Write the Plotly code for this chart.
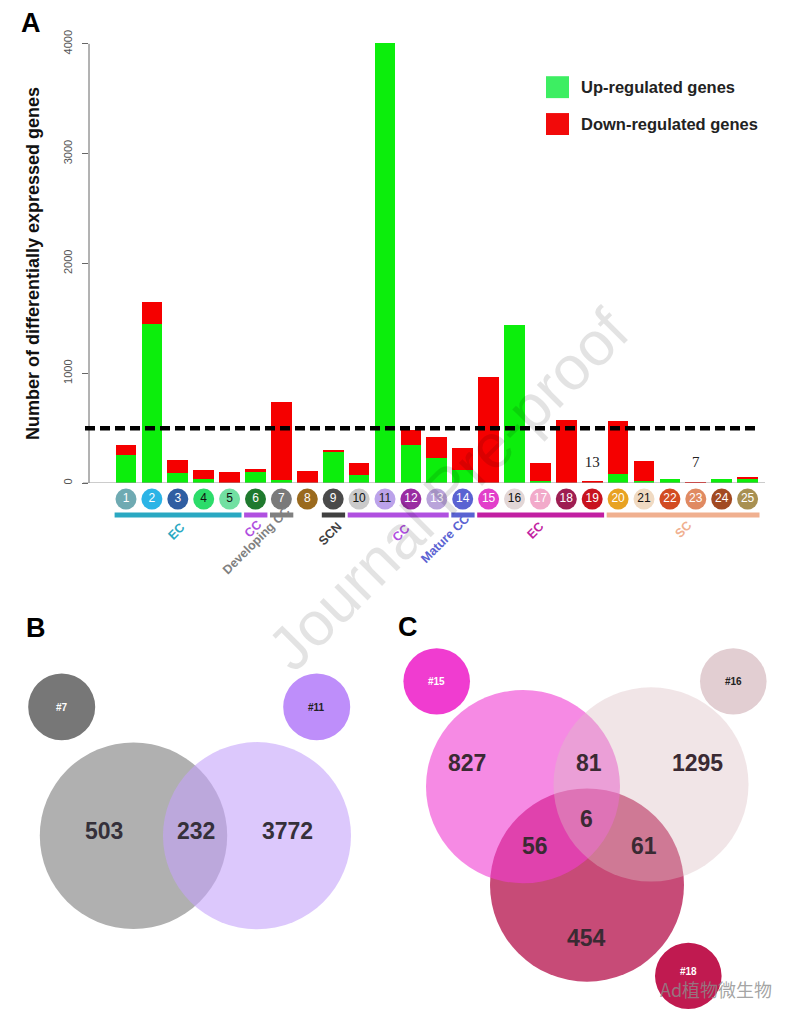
import plotly.graph_objects as go

W, H = 801, 1024

# ---------------- data ----------------
clusters = list(range(1, 26))
cluster_labels = [str(i) for i in clusters]
up_genes = [260, 1450, 88, 33, 5, 103, 25, 5, 284, 70, 4004, 345, 226, 115, 0,
            1443, 20, 0, 6, 79, 15, 40, 0, 36, 45]
down_genes = [85, 195, 118, 91, 98, 27, 710, 101, 22, 111, 0, 135, 191, 205, 970,
              0, 159, 577, 7, 483, 185, 0, 7, 0, 8]
threshold = 500
small_counts = {19: "13", 23: "7"}

cluster_colors = ["#6FAAB2", "#2BB4E6", "#2F5EA2", "#2CDC6A", "#72E0A2", "#1F7A2E",
                  "#7A7A7A", "#9A6A1E", "#4A4A4A", "#CACACA", "#BBA2EA", "#9A2CA2",
                  "#B9A4DA", "#5A62D2", "#E23FCA", "#E2D6D6", "#F2AACA", "#9E1E52",
                  "#C8121E", "#E8A222", "#F0DAC2", "#D24C22", "#E08A62", "#A24A22",
                  "#A89052"]
cluster_text_colors = ["white", "white", "white", "#111", "#111", "white", "white",
                       "white", "white", "#111", "#222", "white", "white", "white",
                       "white", "#111", "white", "white", "white", "white", "#111",
                       "white", "white", "white", "white"]

groups = ["EC", "CC", "Developing CC", "SCN", "CC", "Mature CC", "EC", "SC"]
group_first = [1, 6, 7, 9, 10, 14, 15, 20]
group_last = [5, 6, 7, 9, 13, 14, 19, 25]
group_colors = ["#2AA8C2", "#B050E0", "#808080", "#404040", "#B050E0", "#5A62D2",
                "#C21FA2", "#F0B090"]

venn_b_labels = ["503", "232", "3772"]
venn_b_sets = ["#7", "#11"]
venn_c_labels = ["827", "81", "1295", "6", "56", "61", "454"]
venn_c_sets = ["#15", "#16", "#18"]

GREEN = "#0CEE0C"
RED = "#F50000"
FONT = "Arial, Liberation Sans"

# ---------------- helpers ----------------
def px(x):
    return x / W

def py(y):
    return 1 - y / H

X0_PX, X1_PX = 89, 765
Y0_PX, YTOP_PX = 482, 30
X_PER = 25.9
x_lo = 1 - (126 - X0_PX) / X_PER
x_hi = 1 + (X1_PX - 126) / X_PER
PXU = 441 / 4000.0
y_top = (Y0_PX - YTOP_PX) / PXU

def yval(ypx):
    return (Y0_PX - ypx) / PXU

# badge strip axis (y2): domain from px 560 (bottom) to px 482 (top), value = 560 - ypx
Y2_BOT = 560

fig = go.Figure()
fig.add_trace(go.Bar(x=clusters, y=up_genes, name="Up-regulated genes",
                     marker=dict(color=GREEN, line=dict(width=0)), width=0.8))
fig.add_trace(go.Bar(x=clusters, y=down_genes, name="Down-regulated genes",
                     marker=dict(color=RED, line=dict(width=0)), width=0.8))

# cluster badges
fig.add_trace(go.Scatter(
    x=clusters, y=[Y2_BOT - 498] * len(clusters), yaxis="y2", mode="markers+text",
    text=cluster_labels, textposition="middle center",
    marker=dict(size=21, color=cluster_colors, line=dict(width=0)),
    textfont=dict(color=cluster_text_colors, size=12, family=FONT),
    cliponaxis=False, hoverinfo="skip", showlegend=False))

# small count labels
fig.add_trace(go.Scatter(
    x=list(small_counts.keys()), y=[yval(462)] * len(small_counts), mode="text",
    text=list(small_counts.values()), textposition="middle center",
    textfont=dict(size=15, color="#222", family="Liberation Serif, Times New Roman, serif"),
    cliponaxis=False, hoverinfo="skip", showlegend=False))

shapes = []
annotations = []

def note(x, y, text, size, color, angle=0, xanchor="center", family=FONT):
    annotations.append(dict(x=px(x), y=py(y), xref="paper", yref="paper", text=text,
                            showarrow=False, textangle=angle, xanchor=xanchor,
                            yanchor="middle", font=dict(size=size, color=color, family=family)))

# y axis line (0 to 4000)
shapes.append(dict(type="line", xref="paper", yref="y", x0=px(X0_PX), x1=px(X0_PX),
                   y0=0, y1=4000, line=dict(color="#666", width=1)))
# x baseline
shapes.append(dict(type="line", xref="paper", yref="y", x0=px(83), x1=px(765),
                   y0=0, y1=0, line=dict(color="#999", width=1.2)))
# threshold dashed line
shapes.append(dict(type="line", xref="paper", yref="y", x0=px(85), x1=px(760),
                   y0=threshold, y1=threshold,
                   line=dict(color="black", width=4.5, dash="10px,5px")))

# group bars
for f, l, c in zip(group_first, group_last, group_colors):
    shapes.append(dict(type="line", xref="x", yref="paper", x0=f - 0.44, x1=l + 0.46,
                       y0=py(514), y1=py(514), line=dict(color=c, width=5)))

# group labels (positions in px)
group_label_pos = [(176, 531), (253, 528), (256, 540), (330, 533), (401, 532),
                   (445, 538), (535, 530), (683, 529)]
for g, c, (gx, gy) in zip(groups, group_colors, group_label_pos):
    note(gx, gy, f"<b>{g}</b>", 12.5, c, angle=-45)

# legend
legend_items = [("Up-regulated genes", "#3DEE62", 84.5), ("Down-regulated genes", "#F20A0A", 121.5)]
for name, col, cy in legend_items:
    shapes.append(dict(type="rect", xref="paper", yref="paper", x0=px(546), x1=px(569),
                       y0=py(cy + 11), y1=py(cy - 11), fillcolor=col, line=dict(width=0)))
    note(579, cy, f"<b>{name}</b>", 16.5, "#222", xanchor="left")

# y axis title
note(33, 262, "<b>Number of differentially expressed genes</b>", 18, "#111", angle=-90)

# panel letters
for letter, (lx, ly) in zip(["A", "B", "C"], [(31, 20), (36, 627), (408, 626)]):
    note(lx, ly, f"<b>{letter}</b>", 27, "black")

def circle(cx, cy, r, color, opacity=1.0):
    return dict(type="circle", xref="paper", yref="paper",
                x0=px(cx - r), x1=px(cx + r), y0=py(cy + r), y1=py(cy - r),
                fillcolor=color, opacity=opacity, line=dict(width=0), layer="above")

# ---------- Venn B ----------
shapes.append(circle(61.7, 706.7, 33.5, "#777777"))
shapes.append(circle(316.7, 706.7, 33.5, "#BE8EFA"))
shapes.append(circle(133.5, 836, 93.7, "#B0B0B0"))
shapes.append(circle(257, 836, 94, "#C5A3FA", 0.6))
for t, (tx, ty), col in zip(venn_b_sets, [(61.7, 707), (316.7, 707)], ["white", "#222"]):
    note(tx, ty, f"<b>{t}</b>", 10, col)
for t, (tx, ty) in zip(venn_b_labels, [(104.3, 831), (195.7, 831), (287.7, 831)]):
    note(tx, ty, f"<b>{t}</b>", 23, "#35303a")

# ---------- Venn C ----------
shapes.append(circle(436.7, 681, 33.3, "#F03CD0"))
shapes.append(circle(733.3, 681, 33.3, "#E2CED2"))
shapes.append(circle(688.3, 976.7, 33.3, "#C01A50"))
shapes.append(circle(587, 885.5, 97, "#B91E55", 0.8))
shapes.append(circle(523, 786.7, 97, "#F03CD2", 0.6))
shapes.append(circle(651, 784.5, 97.5, "#DCBEC3", 0.4))
for t, (tx, ty), col in zip(venn_c_sets, [(436.7, 681), (733.3, 681), (688.3, 972)],
                            ["white", "#222", "white"]):
    note(tx, ty, f"<b>{t}</b>", 10, col)
venn_c_pos = [(466.7, 763.3), (589, 763.3), (697.3, 763.3), (586.7, 819),
              (535, 846), (644, 846), (586.7, 939)]
for t, (tx, ty) in zip(venn_c_labels, venn_c_pos):
    note(tx, ty, f"<b>{t}</b>", 23, "#3a2a33")

# watermarks
note(448, 488, "Journal Pre-proof", 62, "rgba(0,0,0,0.11)", angle=-45)
note(716, 990, "Ad植物微生物", 18, "rgba(140,140,140,0.8)",
     family="Noto Sans CJK SC, sans-serif")

fig.update_layout(
    width=W, height=H, margin=dict(l=0, r=0, t=0, b=0),
    paper_bgcolor="white", plot_bgcolor="white",
    barmode="stack", bargap=0.2, showlegend=False,
    shapes=shapes, annotations=annotations,
    xaxis=dict(domain=[px(X0_PX), px(X1_PX)], range=[x_lo, x_hi], showticklabels=False,
               showgrid=False, zeroline=False, showline=False, ticks=""),
    yaxis=dict(domain=[py(Y0_PX), py(YTOP_PX)], range=[0, y_top],
               tickvals=[0, 1000, 2000, 3000, 4000], tickangle=-90,
               ticks="outside", ticklen=6, tickcolor="#666", tickwidth=1,
               ticklabelstandoff=6,
               tickfont=dict(size=11, color="#555", family=FONT),
               showgrid=False, zeroline=False, showline=False),
    yaxis2=dict(domain=[py(Y2_BOT), py(Y0_PX)], range=[0, Y2_BOT - Y0_PX], anchor="x",
                visible=False, fixedrange=True),
)

fig.write_html("out.html", config={"displayModeBar": False},
               post_script="document.body.style.margin='0px';")
